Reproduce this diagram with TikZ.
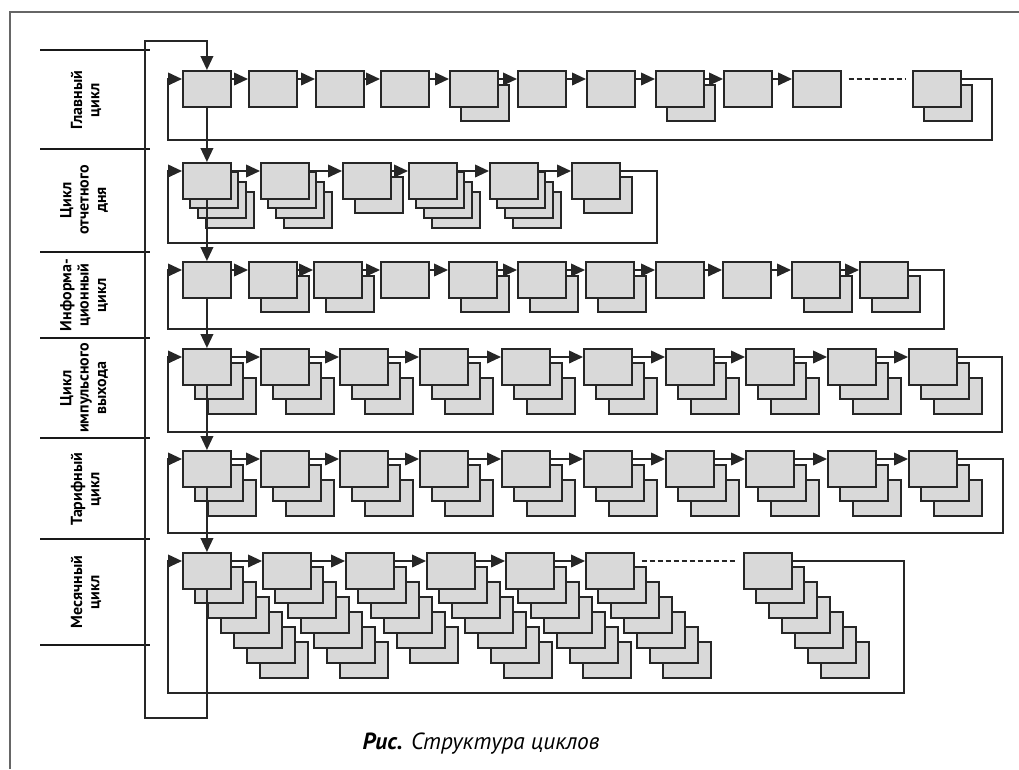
\documentclass[tikz,border=0pt]{standalone}
\usepackage{fontspec}
\setmainfont{PT Sans}
\usetikzlibrary{arrows.meta}
\tikzset{
  flowarrow/.style={-{Triangle[length=10.5pt,width=9.5pt]}, line width=1.3pt, draw=black!85},
  dashlink/.style={line width=1.4pt, draw=black!85, dash pattern=on 4pt off 2pt, shorten <=5pt, shorten >=5pt},
  cyclebox/.style={rectangle, draw=black!85, line width=1.4pt, fill=black!15, inner sep=0pt, minimum width=36pt, minimum height=27pt, anchor=north west},
  copybox/.style={draw=black!85, line width=1.4pt, fill=black!15},
  rowlabel/.style={rotate=90, align=center, font=\bfseries\fontsize{12}{13}\selectfont},
  divider/.style={line width=1.3pt, draw=black!90},
  frame/.style={line width=1.4pt, draw=black!60}
}
\begin{document}
\begin{tikzpicture}[x=0.75pt, y=-0.75pt]
  \useasboundingbox (0,0) rectangle (1019,769);
  \draw[frame] (10,769) -- (10,12) -- (1019,12);

  % left column with the names of the cycles
  \foreach \y in {50,149,252,338,438,539,645}
    \draw[divider] (40,\y) -- (150,\y);
  \node[rowlabel] (lab1) at (86,100) {Главный\\цикл};
  \node[rowlabel] (lab2) at (84,200) {Цикл\\отчетного\\дня};
  \node[rowlabel] (lab3) at (84,295) {Информа-\\ционный\\цикл};
  \node[rowlabel] (lab4) at (84,388) {Цикл\\импульсного\\выхода};
  \node[rowlabel] (lab5) at (86,489) {Тарифный\\цикл};
  \node[rowlabel] (lab6) at (86,592) {Месячный\\цикл};

  % main cycle
  \foreach \i/\x/\n in {1/182/1,2/248/1,3/315/1,4/380/1,5/449/2,6/517/1,7/586/1,8/655/2,9/723/1,10/792/1,11/912/2}{
    \foreach \k in {\n,...,1}{\ifnum\k>1 \draw[copybox] ({\x+(\k-1)*12},{70+(\k-1)*15}) rectangle ++(48,36);\fi}
    \node[cyclebox] (r1b\i) at (\x,70) {};
  }
  \foreach \i [remember=\i as \j (initially 1)] in {2,...,10}
    \draw[flowarrow] ([yshift=-6.75pt]r1b\j.north east) -- ([yshift=-6.75pt]r1b\i.north west);
  \draw[dashlink] ([yshift=-6.75pt]r1b10.north east) -- ([yshift=-6.75pt]r1b11.north west);
  \coordinate (r1ret) at (992,140);
  \coordinate (r1in) at (168,140);
  \draw[flowarrow] ([yshift=-6.75pt]r1b11.north east) -| (r1ret) -- (r1in) |- ([yshift=-6.75pt]r1b1.north west);

  % day cycle
  \foreach \i/\x/\n/\dx/\dy in {1/182/4/8/10,2/260/4/8/10,3/342/2/13/15,4/408/4/8/10,5/489/4/8/10,6/571/2/13/15}{
    \foreach \k in {\n,...,1}{\ifnum\k>1 \draw[copybox] ({\x+(\k-1)*\dx},{162+(\k-1)*\dy}) rectangle ++(48,36);\fi}
    \node[cyclebox] (r2b\i) at (\x,162) {};
  }
  \foreach \i [remember=\i as \j (initially 1)] in {2,...,6}
    \draw[flowarrow] ([yshift=-6.75pt]r2b\j.north east) -- ([yshift=-6.75pt]r2b\i.north west);
  \coordinate (r2ret) at (657,243);
  \coordinate (r2in) at (168,243);
  \draw[flowarrow] ([yshift=-6.75pt]r2b6.north east) -| (r2ret) -- (r2in) |- ([yshift=-6.75pt]r2b1.north west);

  % information cycle
  \foreach \i/\x/\n in {1/182/1,2/248/2,3/313/2,4/380/1,5/448/2,6/517/2,7/585/2,8/655/1,9/722/1,10/791/2,11/859/2}{
    \foreach \k in {\n,...,1}{\ifnum\k>1 \draw[copybox] ({\x+(\k-1)*13},{261+(\k-1)*15}) rectangle ++(48,36);\fi}
    \node[cyclebox] (r3b\i) at (\x,261) {};
  }
  \foreach \i [remember=\i as \j (initially 1)] in {2,...,11}
    \draw[flowarrow] ([yshift=-6.75pt]r3b\j.north east) -- ([yshift=-6.75pt]r3b\i.north west);
  \coordinate (r3ret) at (944,329);
  \coordinate (r3in) at (168,329);
  \draw[flowarrow] ([yshift=-6.75pt]r3b11.north east) -| (r3ret) -- (r3in) |- ([yshift=-6.75pt]r3b1.north west);

  % pulse output cycle and tariff cycle
  \foreach \r/\y/\xr/\yb in {4/348/1002/432,5/450/1003/533}{
    \foreach \i/\x in {1/182,2/260,3/339,4/419,5/501,6/583,7/665,8/745,9/827,10/908}{
      \draw[copybox] ({\x+26},{\y+30}) rectangle ++(48,36);
      \draw[copybox] ({\x+13},{\y+15}) rectangle ++(48,36);
      \node[cyclebox] (r\r b\i) at (\x,\y) {};
    }
    \foreach \i [remember=\i as \j (initially 1)] in {2,...,10}
      \draw[flowarrow] ([yshift=-6.75pt]r\r b\j.north east) -- ([yshift=-6.75pt]r\r b\i.north west);
    \coordinate (r\r ret) at (\xr,\yb);
    \coordinate (r\r in) at (168,\yb);
    \draw[flowarrow] ([yshift=-6.75pt]r\r b10.north east) -| (r\r ret) -- (r\r in) |- ([yshift=-6.75pt]r\r b1.north west);
  }

  % month cycle
  \foreach \i/\x/\n in {1/182/7,2/262/7,3/345/6,4/426/7,5/505/7,6/585/7,7/743/7}{
    \foreach \k in {\n,...,1}{\ifnum\k>1 \draw[copybox] ({\x+(\k-1)*13},{552+(\k-1)*15}) rectangle ++(48,36);\fi}
    \node[cyclebox] (r6b\i) at (\x,552) {};
  }
  \foreach \i [remember=\i as \j (initially 1)] in {2,...,6}
    \draw[flowarrow] ([yshift=-6.75pt]r6b\j.north east) -- ([yshift=-6.75pt]r6b\i.north west);
  \draw[dashlink] ([yshift=-6.75pt]r6b6.north east) -- ([yshift=-6.75pt]r6b7.north west);
  \coordinate (r6ret) at (904,693);
  \coordinate (r6in) at (168,693);
  \draw[flowarrow] ([yshift=-6.75pt]r6b7.north east) -| (r6ret) -- (r6in) |- ([yshift=-6.75pt]r6b1.north west);

  % passing from one cycle to the next
  \foreach \i [remember=\i as \j (initially 1)] in {2,...,6}
    \draw[flowarrow] (r\j b1) -- (r\i b1);
  \coordinate (spinebot) at (145,718);
  \coordinate (spinetop) at (145,41);
  \draw[flowarrow] (r6b1.south) |- (spinebot) -- (spinetop) -| (r1b1.north);

  \node[font=\fontsize{17.5}{19}\selectfont\itshape] (caption) at (481,744) {\textbf{Рис.} Структура циклов};
\end{tikzpicture}
\end{document}
